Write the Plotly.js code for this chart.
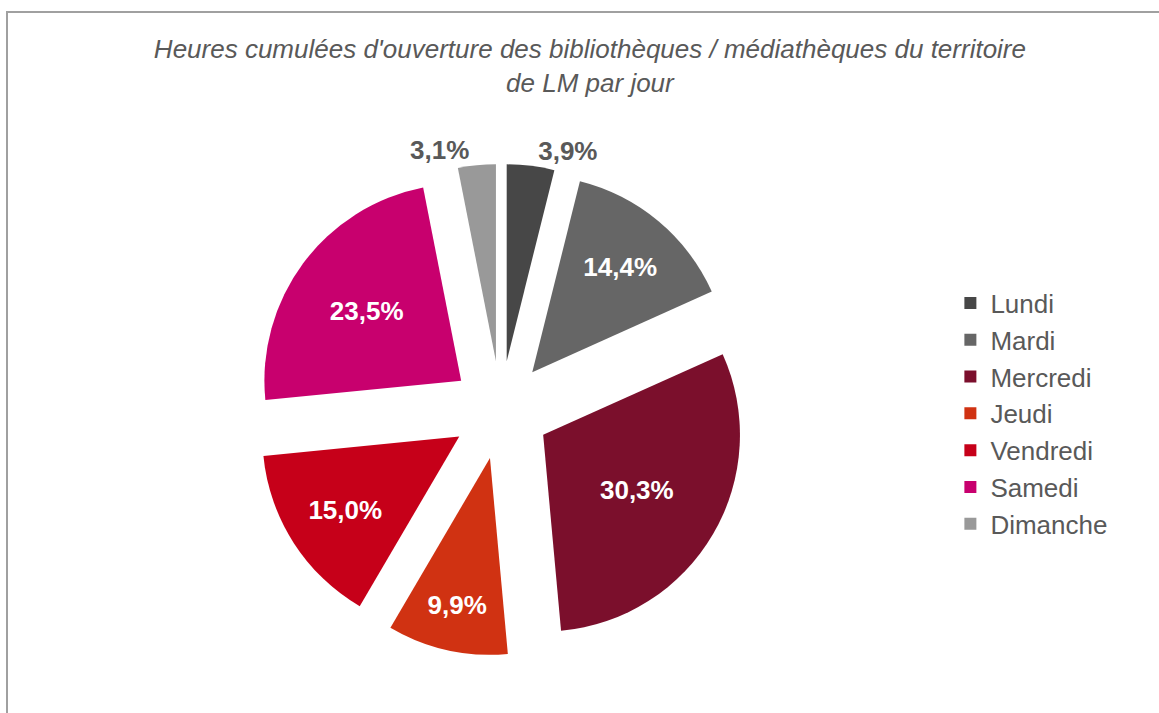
<!DOCTYPE html>
<html><head><meta charset="utf-8">
<script src="https://cdn.plot.ly/plotly-3.0.1.min.js"></script>
<style>html,body{margin:0;padding:0;background:#fff}#chart{width:1159px;height:713px}</style>
</head><body><div id="chart"></div>
<script>
const days = ["Lundi","Mardi","Mercredi","Jeudi","Vendredi","Samedi","Dimanche"];
const shares = [3.9, 14.4, 30.3, 9.9, 15.0, 23.5, 3.1];
const colors = ["#474747","#666666","#7b0f2c","#d03212","#c60019","#c8006e","#999999"];
const chartTitle = "Heures cumulées d'ouverture des bibliothèques / médiathèques du territoire<br>de LM par jour";

const labelsText = shares.map(v => v.toFixed(1).replace('.', ',') + '%');
const positions = shares.map(v => v < 5 ? 'outside' : 'inside');
const textColors = shares.map(v => v < 5 ? '#595959' : '#ffffff');

const FONT = 'Liberation Sans, Arial, sans-serif';

const trace = {
  type: 'pie',
  labels: days,
  values: shares,
  text: labelsText,
  textinfo: 'text',
  textposition: positions,
  insidetextorientation: 'horizontal',
  textfont: {family: FONT, size: 26, color: textColors, weight: 'bold'},
  outsidetextfont: {family: FONT, size: 26, color: '#595959', weight: 'bold'},
  insidetextfont: {family: FONT, size: 26, color: '#ffffff', weight: 'bold'},
  marker: {colors: colors, line: {width: 0}},
  pull: 0.25,
  sort: false,
  direction: 'clockwise',
  rotation: 0,
  hole: 0,
  domain: {x: [0.19, 0.674], y: [0.08, 0.77]},
  showlegend: true
};

const layout = {
  width: 1159, height: 713,
  margin: {l: 0, r: 0, t: 0, b: 0},
  paper_bgcolor: '#ffffff',
  title: {
    text: chartTitle,
    x: 0.509, xanchor: 'center',
    y: 0.919, yanchor: 'middle',
    font: {family: FONT, size: 26, color: '#595959', style: 'italic'}
  },
  legend: {
    x: 0.82, xanchor: 'left',
    y: 0.42, yanchor: 'middle',
    font: {family: FONT, size: 26, color: '#595959'},
    itemwidth: 30,
    tracegroupgap: 0,
    traceorder: 'normal'
  },
  shapes: [{
    type: 'rect', xref: 'paper', yref: 'paper',
    x0: 7/1159, x1: 1.02, y0: -0.02, y1: 1 - 12/713,
    line: {color: '#a0a0a0', width: 2}
  }]
};

Plotly.newPlot('chart', [trace], layout, {displayModeBar: false});
</script></body></html>
